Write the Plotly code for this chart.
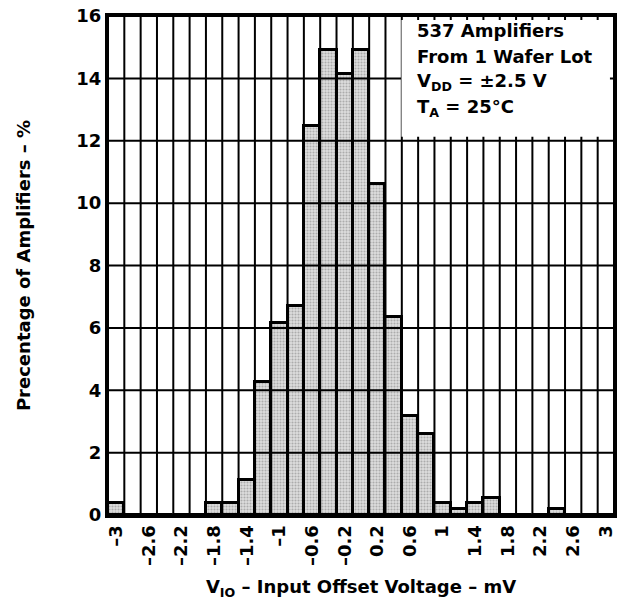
import plotly.graph_objects as go

# Data: histogram bins (centre of 0.2 mV bins) and percentage of amplifiers
bin_centers = [-3.0, -2.8, -2.6, -2.4, -2.2, -2.0, -1.8, -1.6, -1.4, -1.2, -1.0,
               -0.8, -0.6, -0.4, -0.2, 0.0, 0.2, 0.4, 0.6, 0.8, 1.0,
               1.2, 1.4, 1.6, 1.8, 2.0, 2.2, 2.4, 2.6, 2.8, 3.0]
percentages = [0.37, 0, 0, 0, 0, 0, 0.37, 0.37, 1.12, 4.28, 6.15,
               6.70, 12.48, 14.90, 14.15, 14.90, 10.61, 6.36, 3.17, 2.61, 0.37,
               0.19, 0.37, 0.56, 0, 0, 0, 0.19, 0, 0, 0]
x_tick_vals = [-3.0, -2.6, -2.2, -1.8, -1.4, -1.0, -0.6, -0.2, 0.2, 0.6, 1.0, 1.4, 1.8, 2.2, 2.6, 3.0]
x_tick_text = ["–3", "–2.6", "–2.2", "–1.8", "–1.4", "–1", "–0.6", "–0.2",
               "0.2", "0.6", "1", "1.4", "1.8", "2.2", "2.6", "3"]
y_tick_vals = [0, 2, 4, 6, 8, 10, 12, 14, 16]
bin_width = 0.2
info_lines = ["537 Amplifiers", "From 1 Wafer Lot",
              "V<sub>DD</sub> = ±2.5 V", "T<sub>A</sub> = 25°C"]

FONT = "DejaVu Sans, sans-serif"

fig = go.Figure()
fig.add_trace(go.Bar(
    x=bin_centers, y=percentages, width=bin_width,
    marker=dict(color="#d0d0d0",
                line=dict(color="black", width=3),
                pattern=dict(shape=".", fgcolor="#7a7a7a", bgcolor="#dedede",
                             size=3, solidity=0.4)),
    showlegend=False, hoverinfo="skip"))

xmin = bin_centers[0] - bin_width / 2
xmax = bin_centers[-1] + bin_width / 2
shapes = []
# vertical grid lines on bin edges
edges = [c - bin_width / 2 for c in bin_centers] + [xmax]
for e in edges:
    shapes.append(dict(type="line", xref="x", yref="y", x0=e, x1=e, y0=0, y1=16,
                       line=dict(color="black", width=2), layer="above"))
for yv in y_tick_vals:
    shapes.append(dict(type="line", xref="x", yref="y", x0=xmin, x1=xmax, y0=yv, y1=yv,
                       line=dict(color="black", width=2), layer="above"))
# white info box
shapes.append(dict(type="rect", xref="paper", yref="paper", x0=0.58, x1=0.992,
                   y0=0.758, y1=0.992, fillcolor="white", line=dict(width=0), layer="above"))

annotations = []
line_y = [23, 49, 75, 101]
for txt, yy in zip(info_lines, line_y):
    annotations.append(dict(text="<b>" + txt + "</b>", xref="paper", yref="paper",
                            x=(417 - 108) / 509, y=1 - (yy - 8) / 507,
                            xanchor="left", yanchor="middle", showarrow=False,
                            font=dict(family=FONT, size=18, color="black")))

fig.update_layout(
    width=622, height=605,
    margin=dict(l=108, r=5, t=8, b=90),
    paper_bgcolor="white", plot_bgcolor="white",
    bargap=0,
    shapes=shapes, annotations=annotations,
    font=dict(family=FONT, size=18, color="black"),
    xaxis=dict(range=[xmin, xmax], tickmode="array", tickvals=x_tick_vals,
               ticktext=["<b>" + t + "</b>" for t in x_tick_text],
               tickangle=-90, showgrid=False, zeroline=False,
               showline=True, linecolor="black", linewidth=3, mirror=True,
               ticks="", tickfont=dict(family=FONT, size=18),
               ticklabeloverflow="allow",
               layer="above traces",
               title=dict(text="<b>V<sub>IO</sub> – Input Offset Voltage – mV</b>",
                          font=dict(family=FONT, size=18), standoff=16)),
    yaxis=dict(range=[0, 16], tickmode="array", tickvals=y_tick_vals,
               ticktext=["<b>%d</b>" % v for v in y_tick_vals],
               showgrid=False, zeroline=False,
               showline=True, linecolor="black", linewidth=3, mirror=True,
               ticks="", tickfont=dict(family=FONT, size=18),
               ticklabeloverflow="allow",
               layer="above traces",
               title=dict(text="<b>Precentage of Amplifiers – %</b>",
                          font=dict(family=FONT, size=18), standoff=42)),
)

fig.write_html("out.html")
